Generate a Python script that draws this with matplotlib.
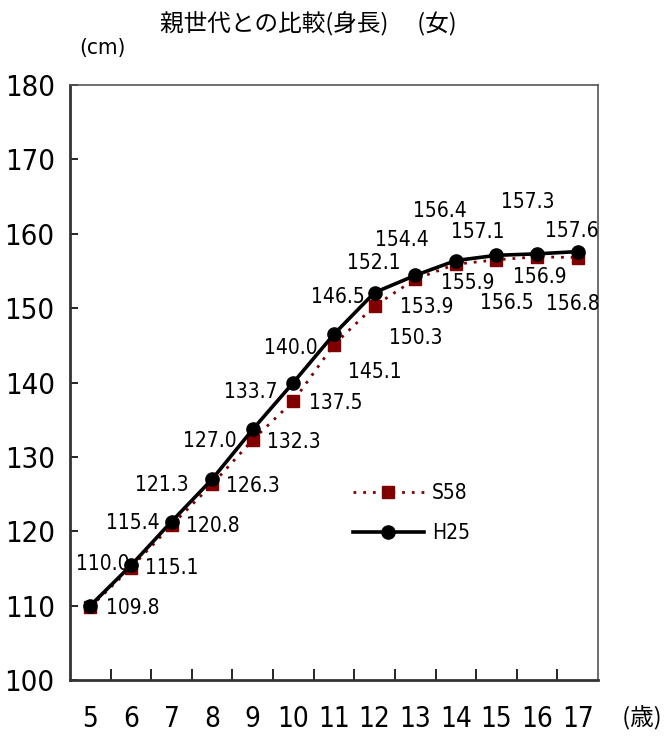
import matplotlib.pyplot as plt
import numpy as np

plt.rcParams['font.family'] = ['DejaVu Sans', 'Noto Sans CJK JP']
plt.rcParams['font.stretch'] = 'condensed'

# 年齢と平均身長（女）
ages = [5, 6, 7, 8, 9, 10, 11, 12, 13, 14, 15, 16, 17]
s58 = [109.8, 115.1, 120.8, 126.3, 132.3, 137.5, 145.1, 150.3, 153.9, 155.9, 156.5, 156.9, 156.8]
h25 = [110.0, 115.4, 121.3, 127.0, 133.7, 140.0, 146.5, 152.1, 154.4, 156.4, 157.1, 157.3, 157.6]

# ラベル位置のずらし量（ピクセル）
h25_off = [(12, 42), (2, 42), (-10, 37), (-2, 38), (-2, 37), (-3, 35), (4, 37),
           (-1, 30), (-13, 35), (-16, 50), (-19, 23), (-9, 52), (-6, 21)]
s58_off = [(42, -1), (41, 0), (41, -1), (41, -2), (41, -2), (42, -2), (41, -27),
           (41, -32), (12, -28), (12, -19), (10, -43), (3, -20), (-5, -46)]

fig = plt.figure(figsize=(6.66, 7.36), dpi=100)
ax = fig.add_axes([70 / 666, 1 - 680 / 736, 528 / 666, 595 / 736])

x = np.arange(len(ages))
ax.plot(x, s58, color='#800000', linestyle=(0, (1, 2.5)), linewidth=2,
        marker='s', markersize=9, markerfacecolor='#800000', markeredgecolor='#800000',
        label='S58', zorder=3)
ax.plot(x, h25, color='black', linewidth=2.6,
        marker='o', markersize=9.5, markerfacecolor='black', label='H25', zorder=4)

for i in range(len(ages)):
    ax.annotate(f'{h25[i]:.1f}', (x[i], h25[i]), xytext=h25_off[i],
                textcoords='offset pixels', ha='center', va='center', fontsize=15)
    ax.annotate(f'{s58[i]:.1f}', (x[i], s58[i]), xytext=s58_off[i],
                textcoords='offset pixels', ha='center', va='center', fontsize=15)

ax.set_xlim(-0.5, len(ages) - 0.5)
ax.set_ylim(100, 180)
ax.set_yticks(range(100, 181, 10))
ax.tick_params(axis='y', direction='in', length=6, width=1.2, labelsize=21, pad=11)

# 目盛りは区切り位置、ラベルは中央
ax.set_xticks(np.arange(0.5, len(ages) - 0.5, 1))
ax.set_xticklabels([])
ax.tick_params(axis='x', direction='in', length=8, width=1.2)
for i, a in enumerate(ages):
    ax.text(x[i], -0.065, str(a), transform=ax.get_xaxis_transform(),
            ha='center', va='center', fontsize=20)

for side in ['left', 'bottom']:
    ax.spines[side].set_linewidth(2)
    ax.spines[side].set_color('#333333')
for side in ['top', 'right']:
    ax.spines[side].set_linewidth(1.2)
    ax.spines[side].set_color('#555555')

leg = ax.legend(loc='upper left', bbox_to_anchor=(0.50, 0.362), frameon=False,
                fontsize=15, handlelength=3.4, labelspacing=0.95, handletextpad=0.4)

fig.text(308 / 666, 1 - 23 / 736, '親世代との比較(身長)　 (女)', ha='center', va='center',
         fontsize=17, family=['Noto Sans CJK JP', 'DejaVu Sans'])
fig.text(102 / 666, 1 - 48 / 736, '(cm)', ha='center', va='center', fontsize=16)
fig.text(662 / 666, 1 - 718 / 736, ' (歳)', ha='right', va='center', fontsize=17,
         family=['Noto Sans CJK JP', 'DejaVu Sans'])

fig.savefig('out.png', dpi=100)
